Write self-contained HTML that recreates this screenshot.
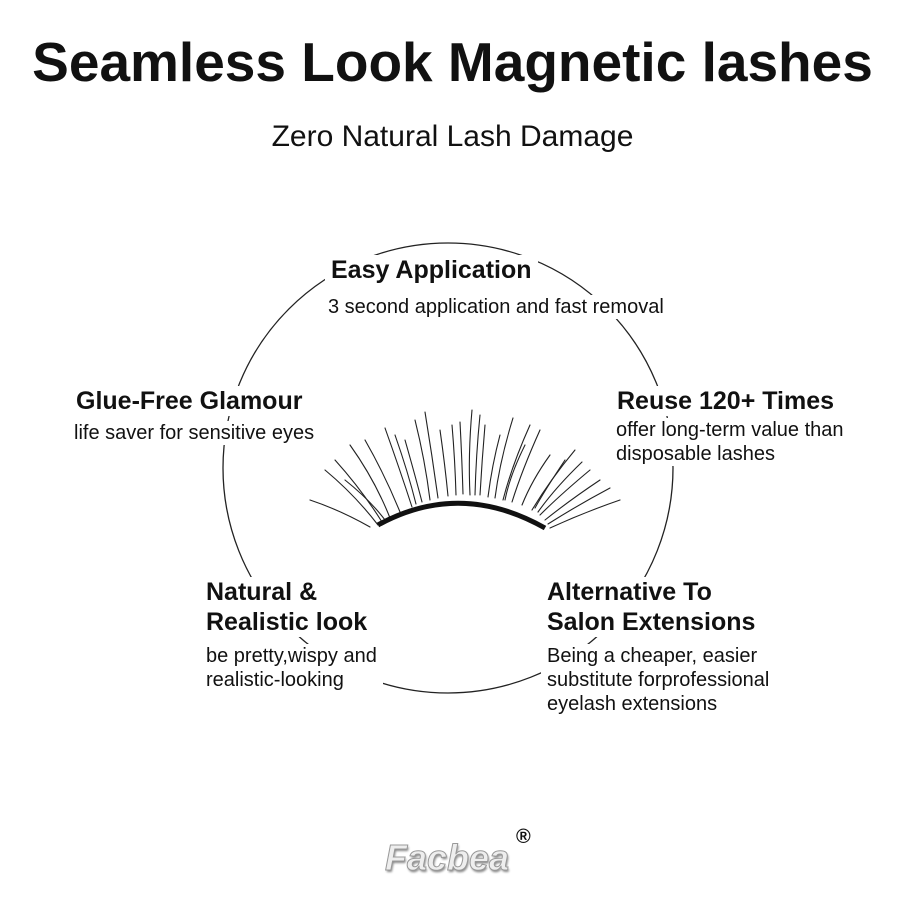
<!DOCTYPE html>
<html><head><style>
body{margin:0;width:905px;height:905px;background:#fff;position:relative;overflow:hidden;font-family:"Liberation Sans",sans-serif;color:#111}
.a{position:absolute;white-space:nowrap}
.h{font-weight:bold;font-size:25px;line-height:30px;background:#fff}
.b{font-size:20px;line-height:24px;background:#fff}
</style></head><body>
<svg class="a" style="left:0;top:0" width="905" height="905">
<circle cx="448" cy="468" r="225" fill="none" stroke="#222" stroke-width="1.3"/>
</svg>
<div class="a" style="left:0;width:905px;text-align:center;top:30px;font-weight:bold;font-size:55px;line-height:64px">Seamless Look Magnetic lashes</div>
<div class="a" style="left:0;width:905px;text-align:center;top:120px;font-size:30px;line-height:34px">Zero Natural Lash Damage</div>

<div class="a h" style="left:325px;top:255px;padding:0 6px">Easy Application</div>
<div class="a b" style="left:322px;top:295px;padding:0 6px">3 second application and fast removal</div>

<div class="a h" style="left:70px;top:386px;padding:0 6px">Glue-Free Glamour</div>
<div class="a b" style="left:68px;top:421px;padding:0 6px">life saver for sensitive eyes</div>

<div class="a h" style="left:611px;top:386px;padding:0 6px">Reuse 120+ Times</div>
<div class="a b" style="left:610px;top:418px;padding:0 6px">offer long-term value than<br>disposable lashes</div>

<div class="a h" style="left:200px;top:577px;padding:0 6px">Natural &amp;<br>Realistic look</div>
<div class="a b" style="left:200px;top:644px;padding:0 6px">be pretty,wispy and<br>realistic-looking</div>

<div class="a h" style="left:541px;top:577px;padding:0 6px">Alternative To<br>Salon Extensions</div>
<div class="a b" style="left:541px;top:644px;padding:0 6px">Being a cheaper, easier<br>substitute forprofessional<br>eyelash extensions</div>

<svg class="a" style="left:300px;top:400px" width="330" height="140">
<g stroke="#222" stroke-width="1.1" fill="none" stroke-linecap="round">
<path d="M10 100 Q40 110 70 127"/><path d="M25 70 Q55 95 78 125"/><path d="M50 45 Q75 80 90 118"/>
<path d="M65 40 Q85 75 100 112"/><path d="M85 28 Q100 70 112 107"/><path d="M105 40 Q115 75 122 102"/>
<path d="M115 20 Q125 60 130 100"/><path d="M125 12 Q132 55 138 98"/><path d="M140 30 Q145 65 148 96"/>
<path d="M152 25 Q155 60 156 95"/><path d="M160 22 Q162 60 163 94"/><path d="M172 10 Q168 55 170 95"/>
<path d="M185 25 Q182 60 180 95"/><path d="M200 35 Q192 65 188 97"/><path d="M213 18 Q200 60 195 98"/>
<path d="M225 45 Q210 75 205 100"/><path d="M240 30 Q222 70 212 102"/><path d="M250 55 Q232 80 222 105"/>
<path d="M275 50 Q250 80 232 110"/><path d="M290 70 Q260 95 240 115"/><path d="M300 80 Q270 100 245 120"/>
<path d="M320 100 Q285 112 250 128"/><path d="M265 60 Q245 90 235 108"/><path d="M45 80 Q70 100 85 120"/>
<path d="M35 60 Q62 90 82 122"/><path d="M95 35 Q108 72 116 104"/><path d="M180 15 Q176 55 175 95"/>
<path d="M230 25 Q212 65 203 100"/><path d="M282 62 Q255 88 238 112"/><path d="M310 88 Q278 105 248 124"/>
</g>
<path d="M78 125 Q160 80 245 128" stroke="#111" stroke-width="5" fill="none"/>
</svg>

<div class="a" style="left:385px;top:838px;font-weight:bold;font-size:36px;line-height:40px;color:#eee;-webkit-text-stroke:1px #999;text-shadow:1px 2px 2px #888;font-style:italic">Facbea</div>
<div class="a" style="left:516px;top:826px;font-weight:bold;font-size:20px;color:#111">®</div>
</body></html>
